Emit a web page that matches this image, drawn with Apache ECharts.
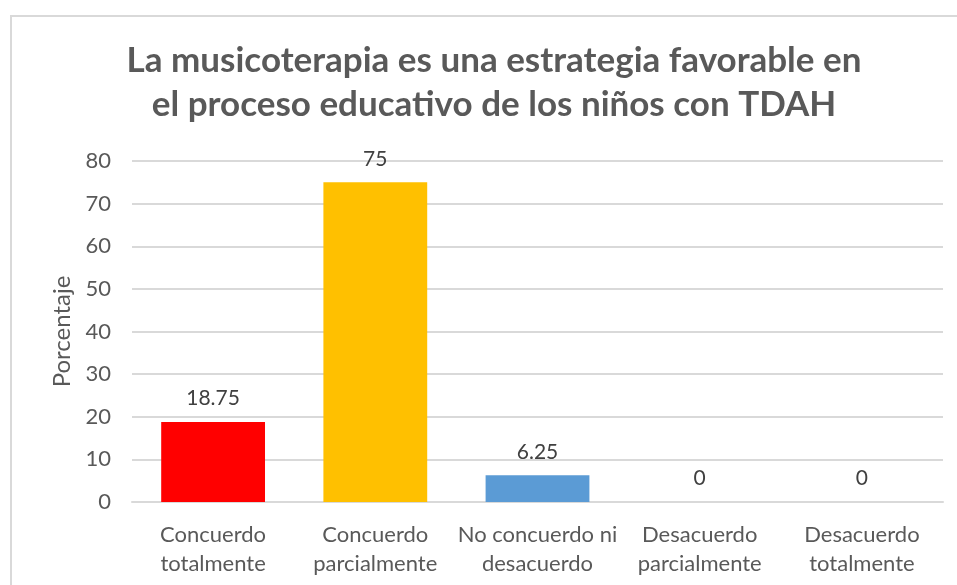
<!DOCTYPE html>
<html>
<head>
<meta charset="utf-8">
<script src="https://cdn.jsdelivr.net/npm/echarts@6/dist/echarts.min.js"></script>
<style>
  html, body { margin: 0; padding: 0; background: #ffffff; }
  #chart { width: 957px; height: 585px; }
</style>
</head>
<body>
<div id="chart"></div>
<script>
// Survey answers and their share of respondents (%)
const categories = [
  'Concuerdo\ntotalmente',
  'Concuerdo\nparcialmente',
  'No concuerdo ni\ndesacuerdo',
  'Desacuerdo\nparcialmente',
  'Desacuerdo\ntotalmente'
];
const percentages = [18.75, 75, 6.25, 0, 0];
const barColors = ['#FF0000', '#FFC000', '#5B9BD5', '#A5A5A5', '#4472C4'];
const yTicks = { min: 0, max: 80, interval: 10 };

const titleText = 'La musicoterapia es una estrategia favorable en\nel proceso educativo de los niños con TDAH';
const yAxisName = 'Porcentaje';

const chart = echarts.init(document.getElementById('chart'), null, { renderer: 'canvas' });

chart.setOption({
  backgroundColor: '#ffffff',
  animation: false,
  textStyle: { fontFamily: 'Lato, "Open Sans", sans-serif' },
  graphic: [{
    type: 'rect',
    silent: true,
    shape: { x: 11, y: 16, width: 1100, height: 1000 },
    style: { fill: 'none', stroke: '#d9d9d9', lineWidth: 2 }
  }],
  title: {
    text: titleText,
    left: 489,
    top: 34,
    textAlign: 'center',
    textStyle: {
      fontFamily: 'Lato, "Open Sans", sans-serif',
      fontSize: 35,
      fontWeight: 'bold',
      color: '#595959',
      lineHeight: 44
    }
  },
  grid: { left: 132, right: 14, top: 161, bottom: 83, containLabel: false },
  xAxis: {
    type: 'category',
    data: categories,
    axisLine: { show: true, lineStyle: { color: '#d9d9d9', width: 2 } },
    axisTick: { show: false },
    axisLabel: {
      color: '#595959',
      fontSize: 22,
      lineHeight: 29,
      margin: 18,
      interval: 0
    }
  },
  yAxis: {
    type: 'value',
    min: yTicks.min,
    max: yTicks.max,
    interval: yTicks.interval,
    name: yAxisName,
    nameLocation: 'middle',
    nameRotate: 90,
    nameGap: 58,
    nameTextStyle: { color: '#595959', fontSize: 24 },
    axisLine: { show: false },
    axisTick: { show: false },
    axisLabel: { color: '#595959', fontSize: 22, margin: 21 },
    splitLine: { lineStyle: { color: '#d9d9d9', width: 2 } }
  },
  series: [{
    type: 'bar',
    data: percentages.map((v, i) => ({ value: v, itemStyle: { color: barColors[i] } })),
    barWidth: '64%',
    label: {
      show: true,
      position: 'top',
      distance: 13,
      color: '#404040',
      fontSize: 21
    }
  }]
});
</script>
</body>
</html>
